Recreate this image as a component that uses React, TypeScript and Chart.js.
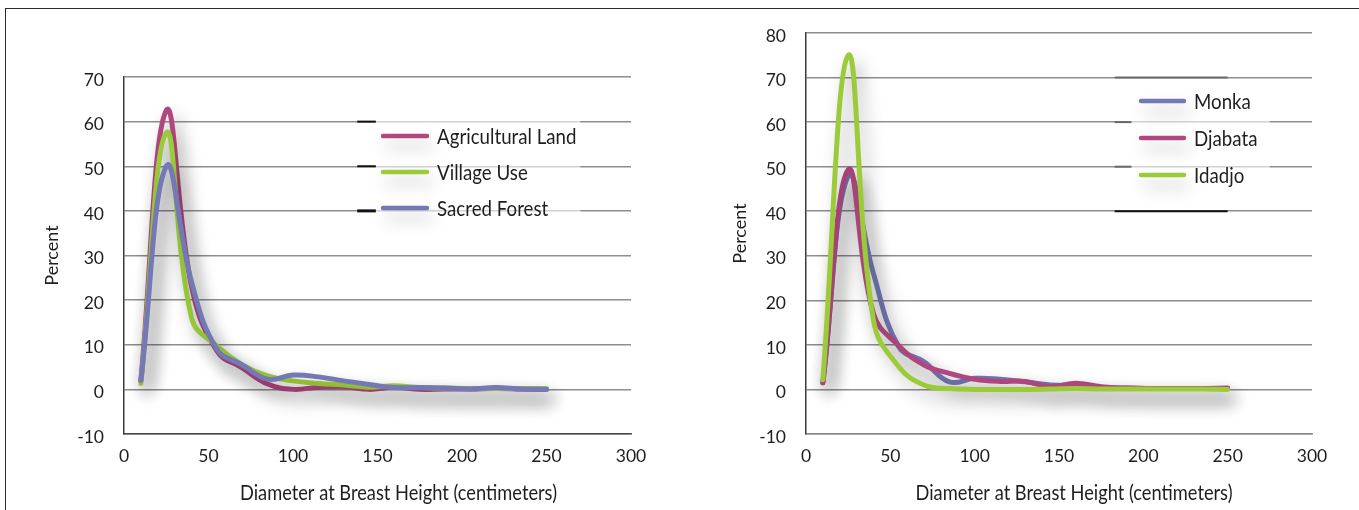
import React, { useEffect, useRef } from "react";
import { Chart, registerables } from "chart.js";

Chart.register(...registerables);

// ---------- data ----------
const dbh = [10, 25, 40, 55, 70, 85, 100, 115, 130, 145, 160, 175, 190, 205, 220, 235, 250];

const leftNames = ["Agricultural Land", "Village Use", "Sacred Forest"];
const agriculturalLand = [2, 62.5, 23, 8.6, 4.8, 1.2, 0, 0.5, 0.6, 0, 0.5, 0, 0.1, 0.1, 0.2, 0.1, 0];
const villageUse = [1.3, 57.5, 16, 9.7, 5.5, 3, 1.9, 1.3, 1.0, 0.5, 0.8, 0.4, 0.3, 0.2, 0.2, 0.2, 0.2];
const sacredForest = [2, 50, 24, 9, 5.5, 2.3, 3.2, 2.8, 1.9, 1.1, 0.4, 0.4, 0.3, 0.1, 0.4, 0.1, 0];

const rightNames = ["Monka", "Djabata", "Idadjo"];
const monka = [1.5, 48, 26, 9.6, 6.2, 1.7, 2.5, 2.3, 1.7, 1.0, 0.8, 0.4, 0.3, 0.2, 0.2, 0.2, 0.2];
const djabata = [1.5, 49.3, 17, 9.8, 5.5, 3.6, 2.3, 1.8, 1.8, 0.6, 1.4, 0.6, 0.3, 0.2, 0.2, 0.2, 0.3];
const idadjo = [2.2, 75, 15.5, 5.1, 1.0, 0.2, 0, 0, 0, 0.1, 0.2, 0.1, 0.1, 0.1, 0.1, 0.1, 0];

const xTicks = [0, 50, 100, 150, 200, 250, 300];
const leftYTicks = [-10, 0, 10, 20, 30, 40, 50, 60, 70];
const rightYTicks = [-10, 0, 10, 20, 30, 40, 50, 60, 70, 80];

const xTitle = "Diameter at Breast Height (centimeters)";
const yTitle = "Percent";

// ---------- styles ----------
const PINK = "#b0487f";
const GREEN = "#9ccb3a";
const BLUE = "#7478b5";
const GRID = "#8e8e8e";
const TEXT = "#1e1e1e";
const FONT = "Lato, 'DejaVu Sans Condensed', sans-serif";

function squeezedText(ctx: any, text: string, x: number, y: number, size: number, opts: any) {
  ctx.save();
  ctx.fillStyle = TEXT;
  ctx.font = `${size}px ${FONT}`;
  ctx.textBaseline = "middle";
  ctx.textAlign = "left";
  const natural = ctx.measureText(text).width;
  const k = opts.targetWidth ? opts.targetWidth / natural : opts.k;
  const w = natural * k;
  const startX = opts.align === "center" ? x - w / 2 : x;
  ctx.translate(startX, y);
  ctx.scale(k, 1);
  ctx.fillText(text, 0, 0);
  ctx.restore();
}

const shadowPlugin = {
  id: "lineShadow",
  beforeDatasetDraw(chart: any) {
    const ctx = chart.ctx;
    ctx.save();
    ctx.shadowColor = "rgba(0,0,0,0.33)";
    ctx.shadowBlur = 18;
    ctx.shadowOffsetX = 6;
    ctx.shadowOffsetY = 10;
  },
  afterDatasetDraw(chart: any) {
    chart.ctx.restore();
  },
};

const decorPlugin = {
  id: "decor",
  beforeDatasetsDraw(chart: any, _args: any, opts: any) {
    const ctx = chart.ctx;
    const xs = chart.scales.x;
    const ys = chart.scales.y;
    if (opts.box) {
      const b = opts.box;
      ctx.save();
      ctx.fillStyle = "rgba(255,255,255,0.6)";
      const x0 = xs.getPixelForValue(b.x0);
      const x1 = xs.getPixelForValue(b.x1);
      const y0 = ys.getPixelForValue(b.y1);
      const y1 = ys.getPixelForValue(b.y0);
      ctx.fillRect(x0, y0, x1 - x0, y1 - y0);
      ctx.restore();
    }
    (opts.marks || []).forEach((m: any) => {
      ctx.save();
      ctx.strokeStyle = m.color;
      ctx.lineWidth = m.width;
      ctx.beginPath();
      const y = ys.getPixelForValue(m.y);
      ctx.moveTo(xs.getPixelForValue(m.x0), y);
      ctx.lineTo(xs.getPixelForValue(m.x1), y);
      ctx.stroke();
      ctx.restore();
    });
  },
  afterDraw(chart: any, _args: any, opts: any) {
    const ctx = chart.ctx;
    const area = chart.chartArea;
    squeezedText(ctx, opts.xTitle, (area.left + area.right) / 2 + opts.xTitleShift, opts.xTitleY, 21, {
      targetWidth: opts.xTitleWidth,
      align: "center",
    });
    const lg = opts.legend;
    chart.data.datasets.forEach((_ds: any, i: number) => {
      const d = chart.data.datasets[lg.order[i]];
      const y = lg.y + i * lg.gap;
      ctx.save();
      ctx.shadowColor = "rgba(0,0,0,0.25)";
      ctx.shadowBlur = 16;
      ctx.shadowOffsetX = 4;
      ctx.shadowOffsetY = 10;
      ctx.strokeStyle = d.borderColor;
      ctx.lineWidth = 4.5;
      ctx.lineCap = "round";
      ctx.beginPath();
      ctx.moveTo(lg.x, y);
      ctx.lineTo(lg.x + lg.len, y);
      ctx.stroke();
      ctx.restore();
      squeezedText(ctx, d.label, lg.x + lg.len + lg.textGap, y + 1, 22, { k: 0.85 });
    });
  },
};

function buildConfig(p: any) {
  return {
    type: "line",
    data: {
      datasets: p.series.map((s: any) => ({
        label: s.name,
        data: dbh.map((x, i) => ({ x, y: s.values[i] })),
        borderColor: s.color,
        backgroundColor: s.color,
        borderWidth: 5,
        pointRadius: 0,
        tension: 0.42,
        fill: false,
        order: s.order,
        borderCapStyle: "round",
        borderJoinStyle: "round",
      })),
    },
    options: {
      responsive: false,
      animation: false,
      devicePixelRatio: 1,
      layout: { padding: { left: 0, top: p.padTop, right: p.padRight, bottom: 0 } },
      plugins: {
        legend: { display: false },
        tooltip: { enabled: false },
        decor: {
          xTitle,
          xTitleWidth: 317,
          xTitleShift: p.xTitleShift,
          xTitleY: 493,
          legend: p.legend,
          box: p.box,
          marks: p.marks,
        },
      },
      scales: {
        x: {
          type: "linear",
          min: 0,
          max: 300,
          afterBuildTicks: (s: any) => {
            s.ticks = xTicks.map((v) => ({ value: v }));
          },
          ticks: { color: TEXT, font: { family: FONT, size: 17.5 }, padding: 12, maxRotation: 0, autoSkip: false },
          grid: { display: false, drawTicks: false },
          border: { display: true, color: p.xBorder, width: 1.5 },
          afterFit: (s: any) => {
            s.height = 76;
          },
        },
        y: {
          min: p.yTicks[0],
          max: p.yTicks[p.yTicks.length - 1],
          afterBuildTicks: (s: any) => {
            s.ticks = p.yTicks.map((v: number) => ({ value: v }));
          },
          ticks: { color: TEXT, font: { family: FONT, size: 17.5 }, padding: 20, labelOffset: 3 },
          grid: { color: GRID, lineWidth: 1.5, drawTicks: false },
          border: { display: true, color: "#3a3a3a", width: 1.5 },
          title: {
            display: true,
            text: yTitle,
            color: TEXT,
            font: { family: FONT, size: 18 },
            padding: { top: p.yTitlePad, bottom: 0 },
          },
          afterFit: (s: any) => {
            s.width = p.yWidth;
          },
        },
      },
    },
    plugins: [shadowPlugin, decorPlugin],
  };
}

const leftParams = {
  series: [
    { name: leftNames[0], values: agriculturalLand, color: PINK, order: 3 },
    { name: leftNames[1], values: villageUse, color: GREEN, order: 2 },
    { name: leftNames[2], values: sacredForest, color: BLUE, order: 1 },
  ],
  yTicks: leftYTicks,
  padTop: 77,
  padRight: 49,
  yWidth: 124,
  yTitlePad: 41,
  xTitleShift: 21,
  xBorder: "#4a4a4a",
  legend: { order: [0, 1, 2], x: 383, y: 136, gap: 36, len: 44, textGap: 10 },
  box: { x0: 149, x1: 270, y0: 37, y1: 63 },
  marks: [
    { x0: 138, x1: 149, y: 60, color: "#111", width: 2 },
    { x0: 138, x1: 149, y: 50, color: "#111", width: 2 },
    { x0: 138, x1: 149, y: 40, color: "#111", width: 3 },
  ],
};

const rightParams = {
  series: [
    { name: rightNames[0], values: monka, color: BLUE, order: 3 },
    { name: rightNames[1], values: djabata, color: PINK, order: 2 },
    { name: rightNames[2], values: idadjo, color: GREEN, order: 1 },
  ],
  yTicks: rightYTicks,
  padTop: 33,
  padRight: 47,
  yWidth: 126,
  yTitlePad: 49,
  xTitleShift: 15,
  xBorder: "#8a8a8a",
  legend: { order: [0, 1, 2], x: 1141 - 680, y: 101, gap: 37, len: 43, textGap: 10 },
  box: { x0: 192, x1: 275, y0: 43, y1: 68 },
  marks: [
    { x0: 183, x1: 250, y: 70, color: "#6a6a6a", width: 2 },
    { x0: 183, x1: 193, y: 60, color: "#6a6a6a", width: 2 },
    { x0: 183, x1: 193, y: 50, color: "#6a6a6a", width: 2 },
    { x0: 183, x1: 250, y: 40, color: "#111", width: 2 },
  ],
};

function ChartCanvas({ params, left, width }: { params: any; left: number; width: number }) {
  const ref = useRef<HTMLCanvasElement | null>(null);
  useEffect(() => {
    if (!ref.current) return;
    const chart = new Chart(ref.current, buildConfig(params) as any);
    return () => chart.destroy();
  }, [params]);
  return (
    <canvas
      ref={ref}
      width={width}
      height={510}
      style={{ position: "absolute", left, top: 0, width, height: 510 }}
    />
  );
}

export default function App() {
  return (
    <div style={{ position: "absolute", left: 0, top: 0, width: 1359, height: 510, background: "#fff", overflow: "hidden" }}>
      <div
        style={{
          position: "absolute",
          left: 5,
          top: 8,
          width: 1360,
          height: 510,
          borderTop: "1.5px solid #2a2a2a",
          borderLeft: "1.5px solid #2a2a2a",
        }}
      />
      <ChartCanvas params={leftParams} left={0} width={680} />
      <ChartCanvas params={rightParams} left={680} width={679} />
    </div>
  );
}
